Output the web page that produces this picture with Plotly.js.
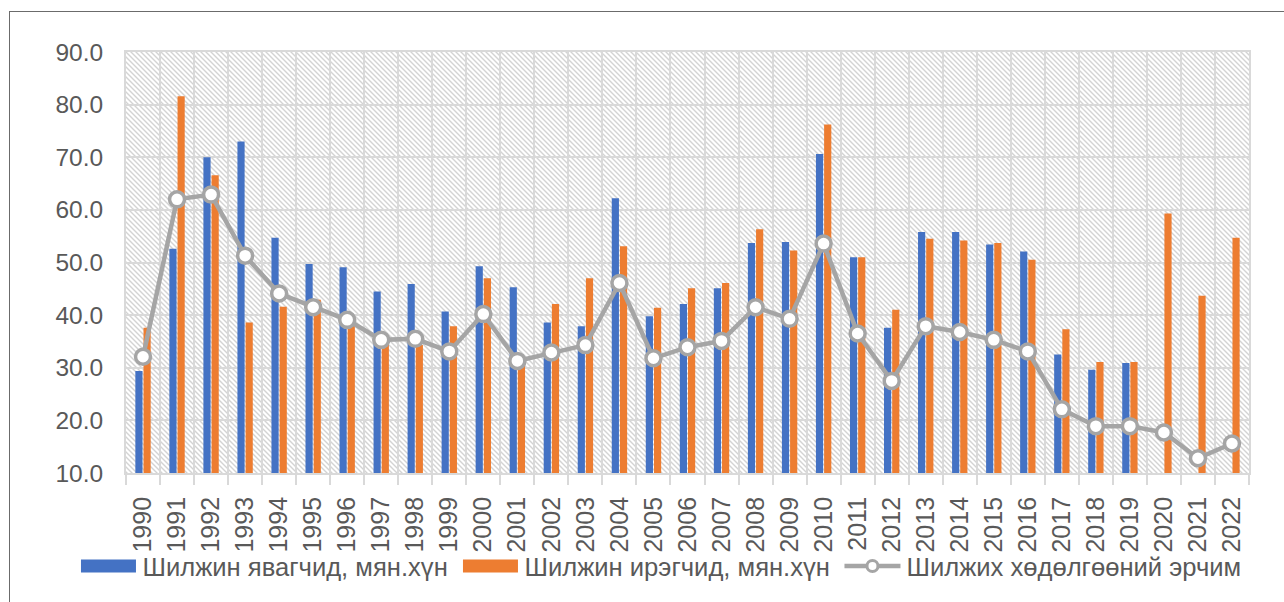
<!DOCTYPE html>
<html>
<head>
<meta charset="utf-8">
<script src="https://cdn.plot.ly/plotly-3.0.1.min.js"></script>
<style>
  html, body { margin: 0; padding: 0; background: #ffffff; }
  #wrap { position: relative; width: 1284px; height: 602px; overflow: hidden; }
  #chart { position: absolute; left: 0; top: 0; width: 1284px; height: 602px; }
  #frame { position: absolute; left: 9px; top: 11px; width: 1400px; height: 700px;
           border-left: 1px solid #6b6b6b; border-top: 1px solid #6b6b6b; pointer-events: none; }
</style>
</head>
<body>
<div id="wrap">
  <div id="chart"></div>
  <div id="frame"></div>
</div>
<script>
// ---- data ----
var years = ["1990","1991","1992","1993","1994","1995","1996","1997","1998","1999",
             "2000","2001","2002","2003","2004","2005","2006","2007","2008","2009",
             "2010","2011","2012","2013","2014","2015","2016","2017","2018","2019",
             "2020","2021","2022"];
var emigrants = [29.4, 52.6, 70.0, 73.0, 54.7, 49.7, 49.1, 44.5, 45.9, 40.7,
                 49.3, 45.3, 38.6, 37.9, 62.2, 39.8, 42.1, 45.1, 53.7, 53.9,
                 70.6, 51.0, 37.6, 55.8, 55.8, 53.4, 52.1, 32.5, 29.6, 30.9,
                 null, null, null];
var immigrants = [37.6, 81.6, 66.6, 38.6, 41.6, 42.9, 38.1, 35.0, 34.3, 37.9,
                  47.0, 31.0, 42.1, 47.0, 53.1, 41.4, 45.1, 46.1, 56.3, 52.3,
                  76.2, 51.0, 41.0, 54.5, 54.2, 53.7, 50.5, 37.3, 31.1, 31.1,
                  59.3, 43.7, 54.7];
var intensity = [32.1, 62.0, 62.9, 51.3, 44.1, 41.5, 39.1, 35.3, 35.5, 33.1,
                 40.2, 31.3, 32.9, 34.3, 46.1, 31.8, 33.9, 35.1, 41.5, 39.3,
                 53.6, 36.5, 27.5, 37.9, 36.8, 35.3, 33.1, 22.1, 18.9, 18.9,
                 17.7, 12.8, 15.6];
var seriesNames = ["Шилжин явагчид, мян.хүн", "Шилжин ирэгчид, мян.хүн", "Шилжих хөдөлгөөний эрчим"];
var yTicks = [10, 20, 30, 40, 50, 60, 70, 80, 90];

// ---- hatch background (style only) ----
var hatchSvg = '<svg xmlns="http://www.w3.org/2000/svg" width="1123" height="421" preserveAspectRatio="none">' +
  '<defs><pattern id="h" patternUnits="userSpaceOnUse" width="5" height="5">' +
  '<path d="M-1,-1 L6,6 M-1,4 L1,6 M4,-1 L6,1" stroke="#d3d3d3" stroke-width="1.4"/>' +
  '</pattern></defs><rect width="1123" height="421" fill="url(#h)"/></svg>';
var hatchUri = 'data:image/svg+xml;charset=utf-8,' + encodeURIComponent(hatchSvg);

var txt = '#595959';
var font = 'Liberation Sans, Arial, sans-serif';
var legendStep = 382;   // px between legend entries
var legendMidY = 566;   // vertical centre of the legend row (px)

var data = [
  { type: 'bar', name: seriesNames[0], x: years, y: emigrants,
    marker: { color: '#4472c4' }, hoverinfo: 'x+y' },
  { type: 'bar', name: seriesNames[1], x: years, y: immigrants,
    marker: { color: '#ed7d31' }, hoverinfo: 'x+y' },
  { type: 'scatter', mode: 'lines+markers', name: seriesNames[2], x: years, y: intensity,
    line: { color: '#a5a5a5', width: 4.5 },
    marker: { symbol: 'circle', size: 15, color: '#ffffff', line: { color: '#a5a5a5', width: 3.5 } } }
];

var layout = {
  width: 1284, height: 602,
  margin: { l: 126, r: 35, t: 52, b: 129 },
  paper_bgcolor: 'rgba(0,0,0,0)',
  plot_bgcolor: 'rgba(0,0,0,0)',
  font: { family: font, color: txt },
  barmode: 'group',
  bargap: 0.52,
  bargroupgap: 0.12,
  showlegend: true,
  legend: {
    orientation: 'h', xref: 'container', yref: 'container',
    x: 0.058, xanchor: 'left', y: 1 - legendMidY / 602, yanchor: 'middle',
    font: { family: font, size: 25.6, color: txt },
    itemwidth: 58, tracegroupgap: 0, bgcolor: 'rgba(0,0,0,0)'
  },
  xaxis: {
    type: 'category', tickson: 'boundaries', range: [-0.5, years.length - 0.5],
    showgrid: true, gridcolor: '#d9d9d9', gridwidth: 2,
    ticks: 'outside', ticklen: 10, tickwidth: 2, tickcolor: '#d9d9d9',
    tickangle: -90, ticksuffix: '\u00a0\u2009',
    tickfont: { family: font, size: 25, color: txt },
    showline: true, linecolor: '#d9d9d9', linewidth: 2, mirror: true,
    zeroline: false, fixedrange: true
  },
  yaxis: {
    range: [10, 90], tickvals: yTicks, tickformat: '.1f',
    showgrid: true, gridcolor: '#d9d9d9', gridwidth: 2,
    ticks: '', ticklabelstandoff: 16,
    tickfont: { family: font, size: 24.5, color: txt },
    showline: true, linecolor: '#d9d9d9', linewidth: 2, mirror: true,
    zeroline: false, fixedrange: true
  },
  images: [{
    source: hatchUri, xref: 'paper', yref: 'paper', x: 0, y: 1,
    sizex: 1, sizey: 1, xanchor: 'left', yanchor: 'top',
    sizing: 'stretch', layer: 'below'
  }]
};

function parseT(el) {
  var t = el && el.getAttribute('transform');
  var m = t && t.match(/translate\(\s*([-\d.]+)[ ,]+([-\d.]+)/);
  return m ? [parseFloat(m[1]), parseFloat(m[2])] : [0, 0];
}

Plotly.newPlot('chart', data, layout, { displayModeBar: false, staticPlot: true }).then(function (gd) {
  var items = gd.querySelectorAll('.legend .traces');
  // wide swatches for bar entries
  for (var i = 0; i < items.length && i < 2; i++) {
    var ps = items[i].querySelectorAll('.legendpoints path');
    for (var j = 0; j < ps.length; j++) {
      ps[j].setAttribute('d', 'M-27.5,-6.5h55v13h-55z');
    }
  }
  // longer line + small marker for the line entry
  if (items[2]) {
    var mk = items[2].querySelector('.legendpoints path');
    var ln = items[2].querySelector('.legendlines path');
    var c = parseT(mk)[0];
    if (ln) ln.setAttribute('d', 'M' + (c - 28) + ',0h56');
    if (mk) {
      mk.setAttribute('d', 'M5.5,0A5.5,5.5 0 1,1 0,-5.5A5.5,5.5 0 0,1 5.5,0Z');
      mk.style.strokeWidth = '3px';
    }
  }
  // one row, evenly spaced, centred at legendMidY
  if (items.length) {
    var p0 = parseT(items[0]);
    var host = document.getElementById('chart').getBoundingClientRect();
    var sw = items[0].querySelector('.legendpoints path');
    var r = sw ? sw.getBoundingClientRect() : items[0].getBoundingClientRect();
    var dy = legendMidY - ((r.top + r.bottom) / 2 - host.top);
    for (var k = 0; k < items.length; k++) {
      items[k].setAttribute('transform', 'translate(' + (p0[0] + k * legendStep) + ',' + (p0[1] + dy) + ')');
    }
  }
  var sb = gd.querySelectorAll('.legend .scrollbox, .legend');
  for (var s = 0; s < sb.length; s++) sb[s].removeAttribute('clip-path');
});
</script>
</body>
</html>
